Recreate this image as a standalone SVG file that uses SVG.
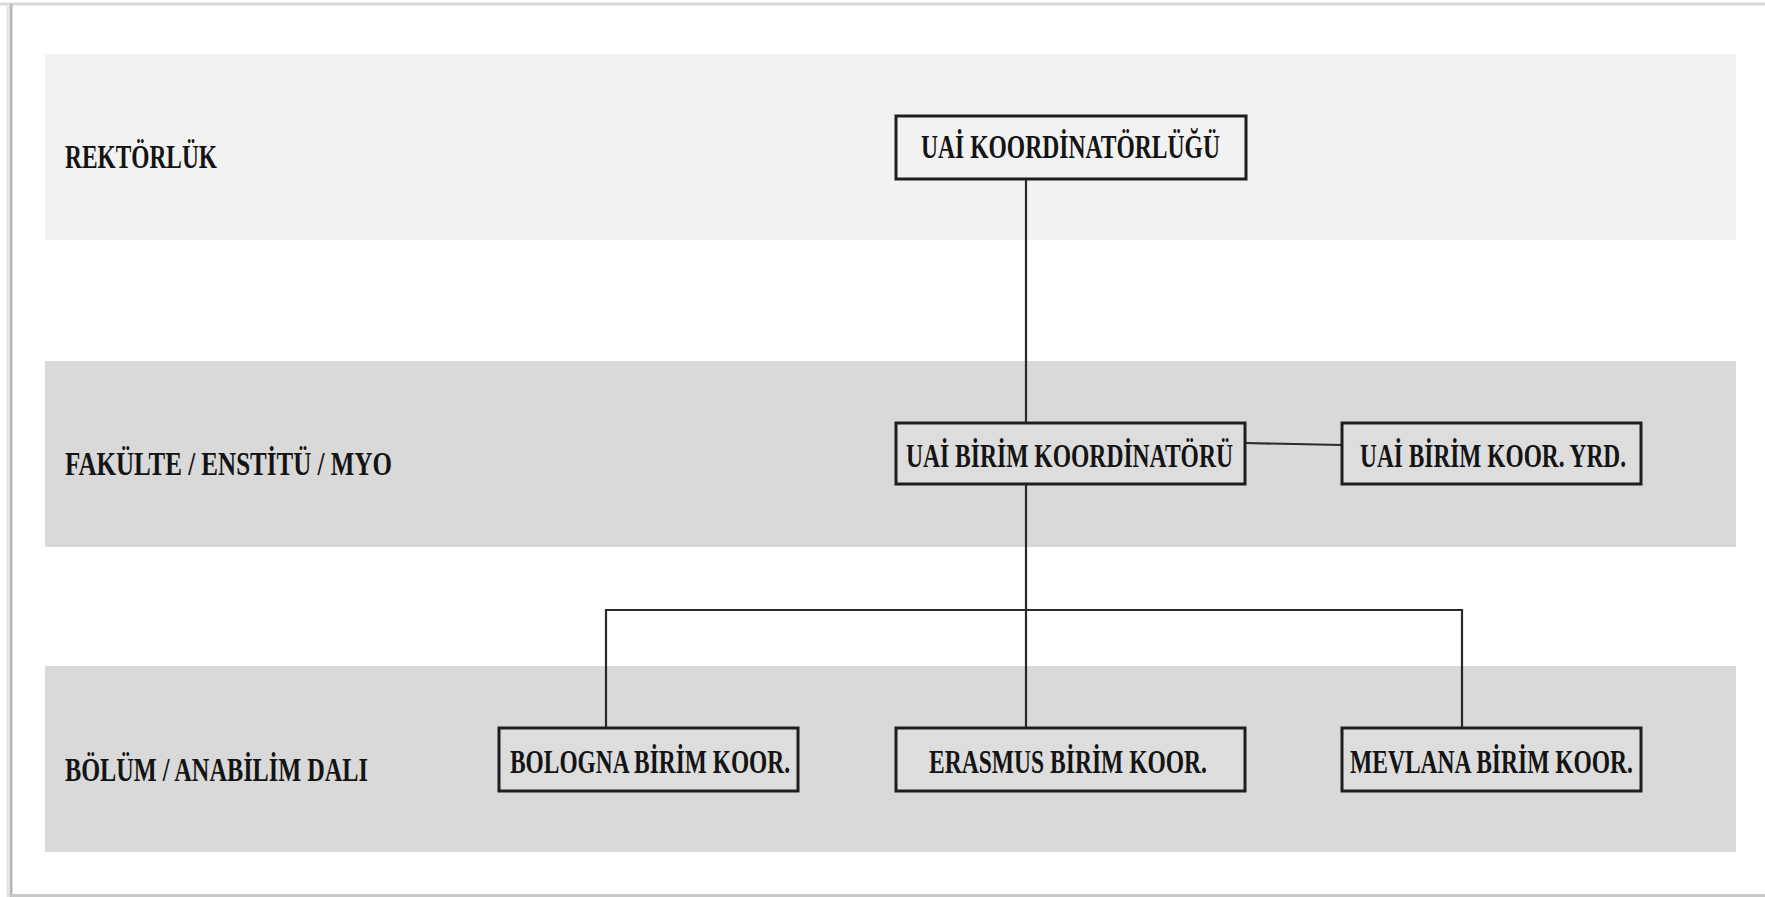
<svg xmlns="http://www.w3.org/2000/svg" width="1765" height="897" viewBox="0 0 1765 897">
<style>
.band1{fill:#f2f2f2}
.band{fill:#d9d9d9}
.box{stroke:#1e1e1e;stroke-width:3}
.lbl{font-family:"Liberation Serif","DejaVu Serif",serif;font-weight:bold;font-size:34px;fill:#141414}
.conn{stroke:#2a2a2a;stroke-width:2.2;fill:none}
</style>
<rect x="0" y="0" width="1765" height="897" fill="#ffffff"/>
<g id="frame">
<line x1="0" y1="4" x2="1765" y2="4" stroke="#d8d8d8" stroke-width="3"/>
<line x1="11" y1="4" x2="11" y2="897" stroke="#b8b8b8" stroke-width="3"/>
<line x1="8" y1="4" x2="8" y2="897" stroke="#e6e6e6" stroke-width="3"/>
<line x1="11" y1="895.5" x2="1765" y2="895.5" stroke="#c8c8c8" stroke-width="3"/>
</g>
<g id="bands">
<rect class="band1" x="45" y="54" width="1691" height="186"/>
<rect class="band" x="45" y="361" width="1691" height="186"/>
<rect class="band" x="45" y="666" width="1691" height="186"/>
<text class="lbl" x="65" y="168" textLength="152" lengthAdjust="spacingAndGlyphs">REKTÖRLÜK</text>
<text class="lbl" x="65" y="475" textLength="327" lengthAdjust="spacingAndGlyphs">FAKÜLTE / ENSTİTÜ / MYO</text>
<text class="lbl" x="65" y="781" textLength="303" lengthAdjust="spacingAndGlyphs">BÖLÜM / ANABİLİM DALI</text>
</g>
<g id="connectors">
<line class="conn" x1="1026" y1="179" x2="1026" y2="423"/>
<line class="conn" x1="1245" y1="443" x2="1342" y2="445"/>
<line class="conn" x1="1026" y1="484" x2="1026" y2="728"/>
<polyline class="conn" points="606,728 606,610 1462,610 1462,728"/>
</g>
<g id="n-uai-koordinatorlugu">
<rect class="box" x="896" y="116" width="350" height="63" fill="#f2f2f2"/>
<text class="lbl" x="921" y="158" textLength="299" lengthAdjust="spacingAndGlyphs">UAİ KOORDİNATÖRLÜĞÜ</text>
</g>
<g id="n-uai-birim-koordinatoru">
<rect class="box" x="896" y="423" width="349" height="61" fill="#dddddd"/>
<text class="lbl" x="906" y="467" textLength="327" lengthAdjust="spacingAndGlyphs">UAİ BİRİM KOORDİNATÖRÜ</text>
</g>
<g id="n-uai-birim-koor-yrd">
<rect class="box" x="1342" y="423" width="299" height="61" fill="#dddddd"/>
<text class="lbl" x="1360" y="467" textLength="266" lengthAdjust="spacingAndGlyphs">UAİ BİRİM KOOR. YRD.</text>
</g>
<g id="n-bologna">
<rect class="box" x="499" y="728" width="299" height="63" fill="#dddddd"/>
<text class="lbl" x="510" y="773" textLength="280" lengthAdjust="spacingAndGlyphs">BOLOGNA BİRİM KOOR.</text>
</g>
<g id="n-erasmus">
<rect class="box" x="896" y="728" width="349" height="63" fill="#dddddd"/>
<text class="lbl" x="929" y="773" textLength="278" lengthAdjust="spacingAndGlyphs">ERASMUS BİRİM KOOR.</text>
</g>
<g id="n-mevlana">
<rect class="box" x="1342" y="728" width="299" height="63" fill="#dddddd"/>
<text class="lbl" x="1350" y="773" textLength="283" lengthAdjust="spacingAndGlyphs">MEVLANA BİRİM KOOR.</text>
</g>
</svg>
